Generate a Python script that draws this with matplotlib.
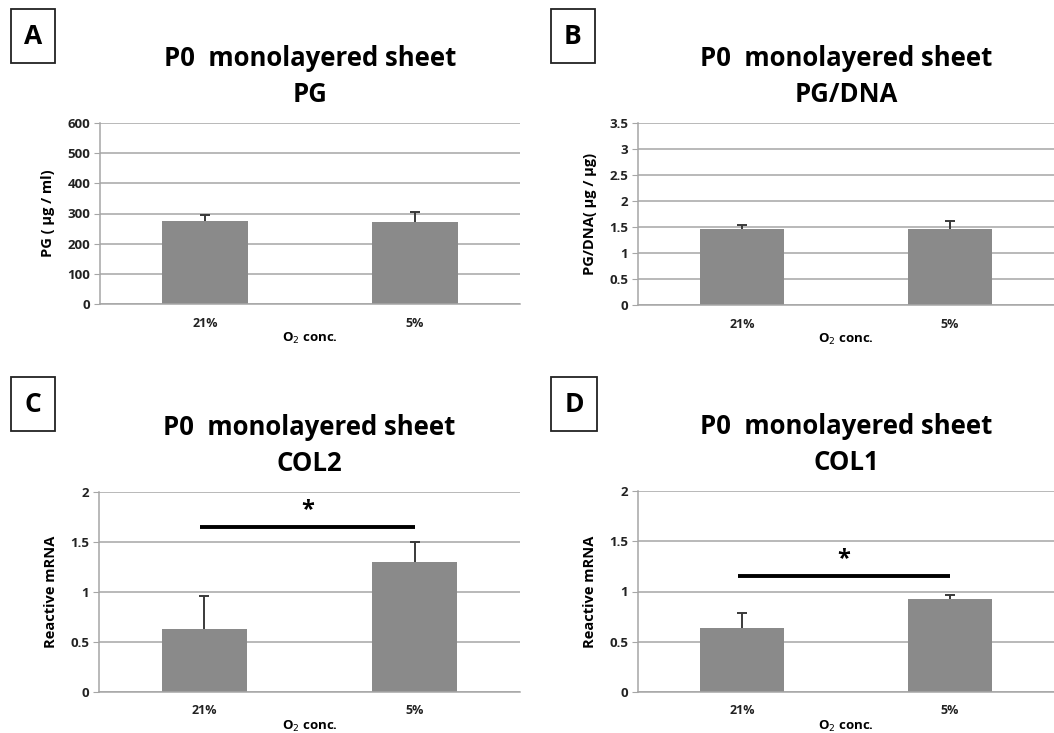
import matplotlib
matplotlib.use("Agg")
import matplotlib.pyplot as plt

plt.rcParams["font.family"] = ["Open Sans", "DejaVu Sans"]

categories = ["21%", "5%"]

pg_values = [275, 273]
pg_errors = [20, 32]

pgdna_values = [1.47, 1.47]
pgdna_errors = [0.07, 0.15]

col2_values = [0.63, 1.30]
col2_errors = [0.33, 0.20]

col1_values = [0.64, 0.925]
col1_errors = [0.15, 0.045]

panels = [
    # letter, subtitle, values, errors, ylabel, ymax, ystep, sig bar y
    ("A", "PG", pg_values, pg_errors, "PG ( μg / ml)", 600, 100, None),
    ("B", "PG/DNA", pgdna_values, pgdna_errors, "PG/DNA( μg / μg)", 3.5, 0.5, None),
    ("C", "COL2", col2_values, col2_errors, "Reactive mRNA", 2, 0.5, 1.65),
    ("D", "COL1", col1_values, col1_errors, "Reactive mRNA", 2, 0.5, 1.15),
]

W, H = 1054, 733
fig = plt.figure(figsize=(W / 100, H / 100), dpi=100)

# axes boxes in pixels: left, top, right, bottom
boxes = [(100, 123, 520, 304), (638, 123, 1054, 305),
         (99, 492, 520, 692), (638, 491, 1054, 692)]
letter_pos = [(33, 36), (573, 36), (33, 404), (574, 404)]

bar_color = "#8a8a8a"
grid_color = "#a6a6a6"

for (letter, sub, vals, errs, ylab, ymax, ystep, sig), box, lp in zip(panels, boxes, letter_pos):
    l, t, r, b = box
    ax = fig.add_axes([l / W, 1 - b / H, (r - l) / W, (b - t) / H])
    x = range(len(categories))
    ax.bar(x, vals, width=0.405, color=bar_color, zorder=2)
    _, caps, _ = ax.errorbar(x, vals, yerr=[[0] * len(errs), errs], fmt="none", ecolor="#3a3a3a",
                             elinewidth=1.4, capsize=3.5, capthick=1.4, zorder=3)
    caps[0].set_visible(False)  # only the plus side, as in Excel
    ax.set_xlim(-0.5, 1.5)
    ax.set_ylim(0, ymax)
    ticks = [i * ystep for i in range(int(round(ymax / ystep)) + 1)]
    ax.set_yticks(ticks)
    ax.set_yticklabels([("%g" % v) for v in ticks])
    ax.set_xticks(list(x))
    ax.set_xticklabels(categories)
    ax.yaxis.grid(True, color=grid_color, linewidth=1.1, zorder=0)
    ax.set_axisbelow(True)
    for s in ["top", "right"]:
        ax.spines[s].set_visible(False)
    ax.spines["left"].set_color(grid_color)
    ax.spines["bottom"].set_color(grid_color)
    ax.spines["left"].set_linewidth(1.1)
    ax.spines["bottom"].set_linewidth(1.1)
    ax.tick_params(axis="y", length=4, color=grid_color, labelsize=9.5, labelcolor="#222222", pad=3)
    ax.tick_params(axis="x", length=0, labelsize=9, labelcolor="#222222", pad=9)
    for lab in ax.get_xticklabels() + ax.get_yticklabels():
        lab.set_fontweight("bold")
    ax.set_ylabel(ylab, fontsize=10.5, fontweight="bold", labelpad=9)
    ax.set_xlabel("O$_2$ conc.", fontsize=9.5, fontweight="bold", labelpad=1)
    ax.set_title("P0  monolayered sheet\n" + sub, fontsize=18.5, fontweight="bold",
                 linespacing=1.45, pad=15)
    if sig is not None:
        ax.plot([-0.02, 1.0], [sig, sig], color="black", linewidth=2.8, solid_capstyle="butt", zorder=4)
        ax.text(0.49, sig + ymax * 0.085, "*", ha="center", va="center", fontsize=17, fontweight="bold")
    fig.text(lp[0] / W, 1 - lp[1] / H, letter, ha="center", va="center", fontsize=19,
             fontweight="bold",
             bbox=dict(boxstyle="square,pad=0.5", facecolor="white", edgecolor="#222222", linewidth=1.3))

fig.savefig("out.png", dpi=100)
